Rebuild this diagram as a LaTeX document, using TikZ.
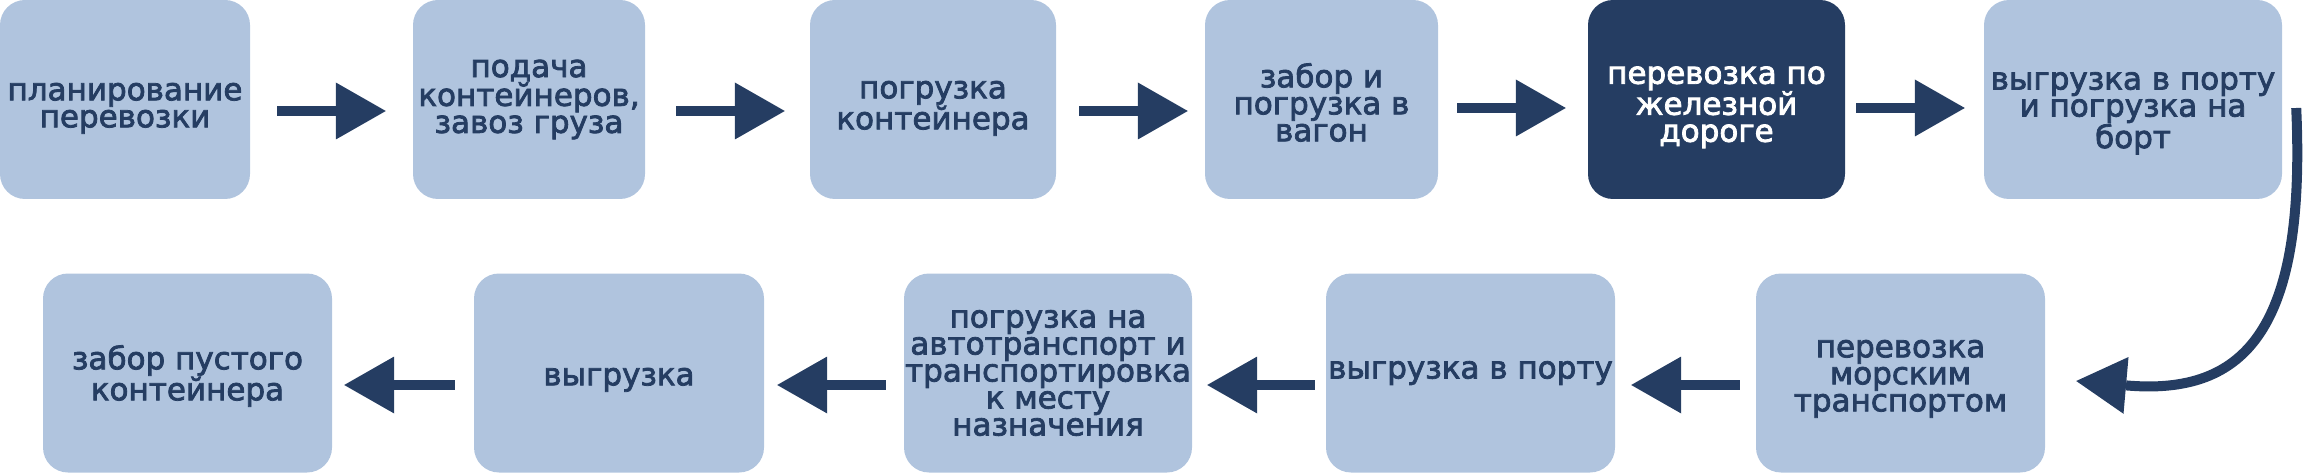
\documentclass[tikz,border=0pt]{standalone}
\usepackage{fontspec}
\newfontfamily\labelfont{DejaVu Sans}[FakeBold=2.5]
\usetikzlibrary{arrows.meta}
\definecolor{paleblue}{HTML}{B0C4DE}
\definecolor{navy}{HTML}{253D62}
\newcommand{\textdrop}[1]{\rule{0pt}{#1}}

\begin{document}
\begin{tikzpicture}%
	[x=1pt,y=-1pt,
	stage/.style={fill=paleblue, text=navy, rounded corners=25pt, inner sep=0pt,
		minimum height=199pt, align=center,
		font=\labelfont\fontsize{31}{27}\selectfont},
	activestage/.style={stage, fill=navy, text=white},
	flow/.style 2 args={draw=navy, line width=10pt,
		-{Triangle[length=50pt,width=57pt,line width=0pt]},
		shorten <=#1, shorten >=#2}]
	\useasboundingbox (0,0) rectangle (2308,473);

	%upper row
	\node[stage, minimum width=250pt] (s1) at (125,99.5) {\textdrop{35pt}планирование\\перевозки};
	\node[stage, minimum width=232pt] (s2) at (529,99.5) {подача\\контейнеров,\\завоз груза};
	\node[stage, minimum width=246pt] (s3) at (933,99.5) {\textdrop{35pt}погрузка\\контейнера};
	\node[stage, minimum width=233pt] (s4) at (1321.5,99.5) {\textdrop{30pt}забор и\\погрузка в\\вагон};
	\node[activestage, minimum width=257pt] (s5) at (1716.5,99.5) {\textdrop{33pt}перевозка по\\железной\\дороге};
	\node[stage, minimum width=298pt] (s6) at (2133,99.5) {\textdrop{45pt}выгрузка в порту\\и погрузка на\\борт};

	%lower row
	\node[stage, minimum width=289pt] (s7) at (1900.5,373) {\textdrop{29pt}перевозка\\морским\\транспортом};
	\node[stage, minimum width=289pt] (s8) at (1470.5,373) {выгрузка в порту};
	\node[stage, minimum width=288pt] (s9) at (1048,373) {погрузка на\\автотранспорт и\\транспортировка\\к месту\\назначения};
	\node[stage, minimum width=290pt] (s10) at (619,373) {\textdrop{31pt}выгрузка};
	\node[stage, minimum width=289pt] (s11) at (187.5,373) {\textdrop{30pt}забор пустого\\контейнера};

	\draw[flow={27pt}{27pt}] ([yshift=-11.5pt]s1.east) -- ([yshift=-11.5pt]s2.west);
	\draw[flow={31pt}{25pt}] ([yshift=-11.5pt]s2.east) -- ([yshift=-11.5pt]s3.west);
	\draw[flow={23pt}{17pt}] ([yshift=-11.5pt]s3.east) -- ([yshift=-11.5pt]s4.west);
	\draw[flow={19pt}{22pt}] ([yshift=-8.5pt]s4.east) -- ([yshift=-8.5pt]s5.west);
	\draw[flow={11pt}{19pt}] ([yshift=-8.5pt]s5.east) -- ([yshift=-8.5pt]s6.west);

	\draw[flow={0pt}{0pt}] ([xshift=14pt,yshift=-8.5pt]s6.east)
		.. controls +(10pt,-220pt) and +(170pt,-15pt) .. ([xshift=31pt,yshift=-8pt]s7.east);

	\draw[flow={16pt}{16pt}] ([yshift=-12pt]s7.west) -- ([yshift=-12pt]s8.east);
	\draw[flow={11pt}{15pt}] ([yshift=-12pt]s8.west) -- ([yshift=-12pt]s9.east);
	\draw[flow={18pt}{13pt}] ([yshift=-12pt]s9.west) -- ([yshift=-12pt]s10.east);
	\draw[flow={19pt}{12pt}] ([yshift=-12pt]s10.west) -- ([yshift=-12pt]s11.east);
\end{tikzpicture}
\end{document}
